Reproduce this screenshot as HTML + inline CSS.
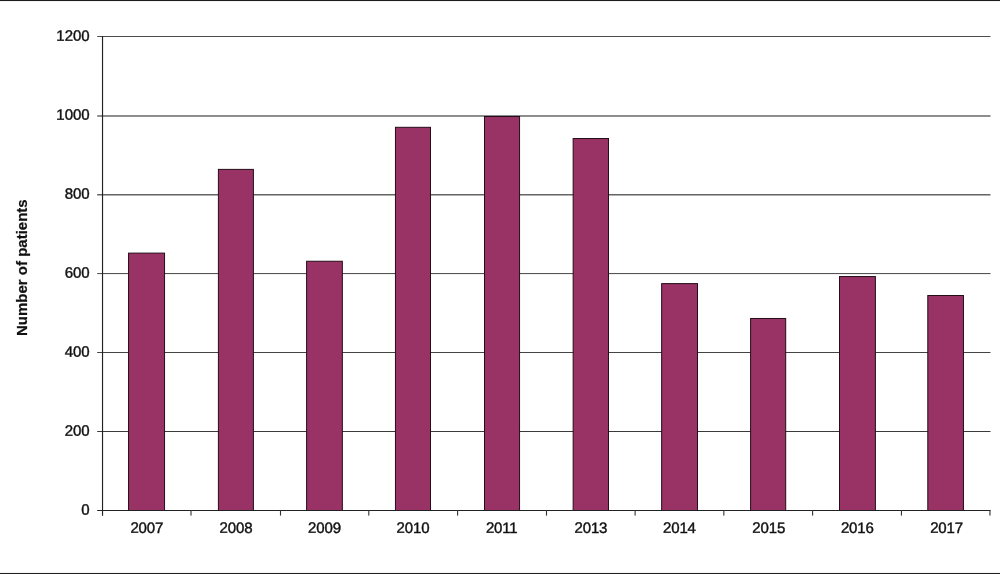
<!DOCTYPE html><html><head><meta charset="utf-8"><title>Number of patients</title><style>html,body{margin:0;padding:0;background:#fff}body{width:1000px;height:574px;overflow:hidden}svg{display:block}text{font-family:"Liberation Sans",Arial,sans-serif;fill:#111;stroke:#111;stroke-width:0.42px}</style></head><body>
<svg width="1000" height="574" viewBox="0 0 1000 574">
<rect x="0" y="0" width="1000" height="574" fill="#fff"/>
<rect x="0" y="0" width="1000" height="1.05" fill="#1c1c1c"/>
<rect x="0" y="572.95" width="1000" height="1.05" fill="#222"/>
<rect x="97.2" y="36" width="893.3" height="1" fill="#4d4d4d"/>
<rect x="97.2" y="115" width="893.3" height="1" fill="#8c8c8c"/>
<rect x="97.2" y="116" width="893.3" height="1" fill="#909090"/>
<rect x="97.2" y="194" width="893.3" height="1" fill="#666"/>
<rect x="97.2" y="195" width="893.3" height="1" fill="#b0b0b0"/>
<rect x="97.2" y="273" width="893.3" height="1" fill="#555"/>
<rect x="97.2" y="274" width="893.3" height="1" fill="#efefef"/>
<rect x="97.2" y="352" width="893.3" height="1" fill="#444"/>
<rect x="97.2" y="431" width="893.3" height="1" fill="#3a3a3a"/>
<text transform="translate(89.7,40.90) rotate(0.15)" font-size="15" text-anchor="end">1200</text>
<text transform="translate(89.7,119.86) rotate(0.15)" font-size="15" text-anchor="end">1000</text>
<text transform="translate(89.7,198.82) rotate(0.15)" font-size="15" text-anchor="end">800</text>
<text transform="translate(89.7,277.78) rotate(0.15)" font-size="15" text-anchor="end">600</text>
<text transform="translate(89.7,356.74) rotate(0.15)" font-size="15" text-anchor="end">400</text>
<text transform="translate(89.7,435.70) rotate(0.15)" font-size="15" text-anchor="end">200</text>
<text transform="translate(89.7,514.66) rotate(0.15)" font-size="15" text-anchor="end">0</text>
<rect x="128.55" y="253.11" width="36.00" height="257.39" fill="#993366" stroke="#260d1a" stroke-width="1"/>
<text transform="translate(146.79,532.9) rotate(0.15)" font-size="15" letter-spacing="-0.15" text-anchor="middle">2007</text>
<rect x="218.40" y="169.39" width="35.00" height="341.11" fill="#993366" stroke="#260d1a" stroke-width="1"/>
<text transform="translate(236.00,532.9) rotate(0.15)" font-size="15" letter-spacing="-0.15" text-anchor="middle">2008</text>
<rect x="306.60" y="261.25" width="35.75" height="249.25" fill="#993366" stroke="#260d1a" stroke-width="1"/>
<text transform="translate(324.44,532.9) rotate(0.15)" font-size="15" letter-spacing="-0.15" text-anchor="middle">2009</text>
<rect x="395.45" y="127.31" width="35.05" height="383.19" fill="#993366" stroke="#260d1a" stroke-width="1"/>
<text transform="translate(412.95,532.9) rotate(0.15)" font-size="15" letter-spacing="-0.15" text-anchor="middle">2010</text>
<rect x="484.50" y="116.51" width="35.05" height="393.99" fill="#993366" stroke="#260d1a" stroke-width="1"/>
<text transform="translate(501.73,532.9) rotate(0.15)" font-size="15" letter-spacing="-0.15" text-anchor="middle">2011</text>
<rect x="573.15" y="138.51" width="35.35" height="371.99" fill="#993366" stroke="#260d1a" stroke-width="1"/>
<text transform="translate(590.90,532.9) rotate(0.15)" font-size="15" letter-spacing="-0.15" text-anchor="middle">2013</text>
<rect x="661.65" y="283.60" width="35.85" height="226.90" fill="#993366" stroke="#260d1a" stroke-width="1"/>
<text transform="translate(679.42,532.9) rotate(0.15)" font-size="15" letter-spacing="-0.15" text-anchor="middle">2014</text>
<rect x="750.60" y="318.48" width="35.10" height="192.02" fill="#993366" stroke="#260d1a" stroke-width="1"/>
<text transform="translate(768.75,532.9) rotate(0.15)" font-size="15" letter-spacing="-0.15" text-anchor="middle">2015</text>
<rect x="839.50" y="276.55" width="35.90" height="233.95" fill="#993366" stroke="#260d1a" stroke-width="1"/>
<text transform="translate(857.30,532.9) rotate(0.15)" font-size="15" letter-spacing="-0.15" text-anchor="middle">2016</text>
<rect x="927.80" y="295.51" width="35.65" height="214.99" fill="#993366" stroke="#260d1a" stroke-width="1"/>
<text transform="translate(946.55,532.9) rotate(0.15)" font-size="15" letter-spacing="-0.15" text-anchor="middle">2017</text>
<rect x="101.95" y="36" width="1.15" height="479.79999999999995" fill="#222"/>
<rect x="97.2" y="510" width="893.3" height="1" fill="#222"/>
<rect x="190.45" y="510" width="1.1" height="5.6" fill="#333"/>
<rect x="279.95" y="510" width="1.1" height="5.6" fill="#333"/>
<rect x="368.25" y="510" width="1.1" height="5.6" fill="#333"/>
<rect x="457.05" y="510" width="1.1" height="5.6" fill="#333"/>
<rect x="545.95" y="510" width="1.1" height="5.6" fill="#333"/>
<rect x="634.55" y="510" width="1.1" height="5.6" fill="#333"/>
<rect x="723.30" y="510" width="1.1" height="5.6" fill="#333"/>
<rect x="812.05" y="510" width="1.1" height="5.6" fill="#333"/>
<rect x="900.90" y="510" width="1.1" height="5.6" fill="#333"/>
<rect x="989.40" y="510" width="1.1" height="5.6" fill="#333"/>
<text transform="translate(26.5,267.65) rotate(-90)" font-size="15" font-weight="bold" style="stroke-width:0.22px" text-anchor="middle">Number of patients</text>
</svg></body></html>
